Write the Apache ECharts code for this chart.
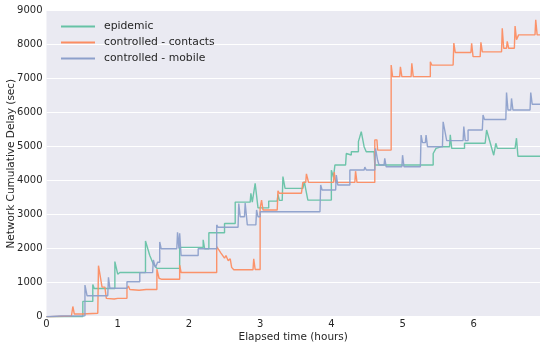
<!DOCTYPE html>
<html><head><meta charset="utf-8">
<script src="https://cdn.jsdelivr.net/npm/echarts@6/dist/echarts.min.js"></script>
<style>html,body{margin:0;padding:0;background:#fff}#c{width:550px;height:348px}</style>
</head><body><div id="c"></div>
<script>
const seriesNames = ['epidemic', 'controlled - contacts', 'controlled - mobile'];
const xTicks = [0, 1, 2, 3, 4, 5, 6];
const yTicks = [0, 1000, 2000, 3000, 4000, 5000, 6000, 7000, 8000, 9000];

// [hours, delay sec]
const epidemic = [[0,0],[0.51,0],[0.51,450],[0.65,450],[0.65,950],[0.67,830],[0.96,830],[0.96,1620],[1.0,1250],[1.03,1300],[1.39,1300],[1.39,2230],[1.45,1800],[1.5,1550],[1.55,1420],[1.87,1420],[1.87,2040],[2.2,2040],[2.2,2260],[2.22,2000],[2.28,2000],[2.28,2470],[2.5,2470],[2.5,2740],[2.65,2740],[2.65,3370],[2.86,3370],[2.87,3630],[2.89,3370],[2.91,3370],[2.93,3920],[2.97,3200],[3.12,3200],[3.12,3400],[3.24,3400],[3.25,3600],[3.27,3420],[3.31,3420],[3.32,4120],[3.35,3775],[3.6,3775],[3.62,3970],[3.67,3430],[4.0,3430],[4.0,4310],[4.03,4100],[4.05,4460],[4.2,4460],[4.21,4800],[4.22,4755],[4.28,4755],[4.28,4850],[4.38,4850],[4.38,5150],[4.42,5440],[4.46,5000],[4.49,4850],[4.6,4850],[4.61,4460],[5.43,4460],[5.43,4800],[5.47,4950],[5.55,5000],[5.66,5000],[5.67,5350],[5.69,4950],[5.87,4950],[5.87,5100],[6.16,5100],[6.18,5490],[6.28,4750],[6.3,4750],[6.31,5100],[6.33,4950],[6.58,4950],[6.6,5250],[6.62,4720],[6.93,4720]];

const contacts = [[0,0],[0.05,0],[0.05,20],[0.35,20],[0.37,300],[0.39,80],[0.5,80],[0.5,100],[0.72,100],[0.73,1500],[0.78,870],[0.82,870],[0.83,920],[0.84,540],[0.95,520],[1.0,540],[1.13,540],[1.13,835],[1.15,900],[1.17,800],[1.3,780],[1.4,800],[1.55,800],[1.55,1395],[1.58,1130],[1.62,1100],[1.87,1100],[1.87,1520],[1.89,1300],[2.39,1300],[2.39,2060],[2.45,1870],[2.5,1720],[2.52,1800],[2.55,1650],[2.58,1700],[2.6,1450],[2.63,1380],[2.9,1380],[2.91,1700],[2.93,1390],[3.0,1390],[3.0,3190],[3.02,3430],[3.04,3140],[3.24,3140],[3.25,3700],[3.27,3630],[3.58,3630],[3.6,3950],[3.64,3950],[3.65,4200],[3.68,3950],[4.03,3950],[4.04,4250],[4.06,3950],[4.33,3950],[4.34,4280],[4.36,3950],[4.61,3950],[4.61,5200],[4.64,5200],[4.65,4900],[4.84,4900],[4.84,7400],[4.86,7060],[4.96,7060],[4.97,7350],[4.99,7060],[5.12,7060],[5.13,7450],[5.15,7060],[5.39,7060],[5.39,7500],[5.41,7400],[5.71,7400],[5.72,8050],[5.74,7770],[5.96,7770],[5.97,8040],[5.99,7650],[6.09,7650],[6.1,8070],[6.12,7790],[6.39,7790],[6.4,8480],[6.42,7895],[6.46,7895],[6.47,8100],[6.49,7895],[6.57,7895],[6.58,8550],[6.6,8150],[6.63,8290],[6.86,8290],[6.87,8730],[6.89,8290],[6.93,8290]];

const mobile = [[0,0],[0.2,20],[0.54,30],[0.54,930],[0.57,615],[0.86,615],[0.87,1160],[0.89,835],[1.13,835],[1.13,1030],[1.31,1030],[1.31,1295],[1.49,1295],[1.5,1670],[1.53,1450],[1.56,1600],[1.59,1600],[1.59,2200],[1.61,2000],[1.83,2000],[1.84,2480],[1.86,2000],[1.87,2450],[1.89,1800],[2.13,1800],[2.13,2000],[2.39,2000],[2.39,2700],[2.41,2630],[2.69,2630],[2.7,3330],[2.72,2940],[2.78,2940],[2.79,3340],[2.82,2700],[2.94,2700],[2.95,3140],[2.97,2940],[3.0,2940],[3.0,3085],[3.84,3085],[3.85,3875],[3.87,3725],[4.06,3725],[4.07,4165],[4.09,3875],[4.26,3875],[4.26,4315],[4.46,4315],[4.47,4400],[4.49,4315],[4.61,4315],[4.62,4950],[4.65,4600],[4.67,4460],[4.74,4460],[4.75,4660],[4.77,4410],[4.99,4410],[5.0,4750],[5.02,4410],[5.25,4410],[5.26,5340],[5.28,5120],[5.32,5120],[5.33,5340],[5.35,5000],[5.56,5000],[5.57,5730],[5.62,5180],[5.85,5180],[5.86,5590],[5.88,5180],[5.92,5180],[5.92,5490],[6.12,5490],[6.13,5930],[6.15,5800],[6.45,5800],[6.46,6590],[6.48,6080],[6.52,6080],[6.53,6420],[6.55,6080],[6.79,6080],[6.8,6590],[6.82,6250],[6.93,6250]];

const colors = ['#66c2a5', '#fc8d62', '#8da0cb'];
const allData = [epidemic, contacts, mobile];

const chart = echarts.init(document.getElementById('c'), null, {renderer: 'canvas'});
chart.setOption({
  animation: false,
  backgroundColor: '#ffffff',
  color: colors,
  textStyle: {fontFamily: 'DejaVu Sans'},
  grid: {left: 46.5, right: 10, top: 10.7, bottom: 31.3, show: true, backgroundColor: '#EAEAF2', borderWidth: 0,
         containLabel: false, outerBoundsMode: 'none'},
  legend: {
    orient: 'vertical', left: 56, top: 16, itemWidth: 34, itemHeight: 2, itemGap: 5,
    icon: 'rect',
    textStyle: {fontSize: 10.8, color: '#262626', padding: [0, 0, 0, 4]},
    data: seriesNames
  },
  xAxis: {
    type: 'value', min: 0, max: 6.93, interval: 1,
    name: 'Elapsed time (hours)', nameLocation: 'middle', nameGap: 15, nameMoveOverlap: false,
    nameTextStyle: {fontSize: 10.5, color: '#262626'},
    axisLine: {show: false}, axisTick: {show: false}, splitLine: {show: false},
    axisLabel: {fontSize: 10, color: '#262626', margin: 3,
      formatter: v => xTicks.includes(v) ? String(v) : ''}
  },
  yAxis: {
    type: 'value', min: 0, max: 9000, interval: 1000,
    name: 'Network Cumulative Delay (sec)', nameLocation: 'middle', nameGap: 29.5, nameMoveOverlap: false,
    nameTextStyle: {fontSize: 10.5, color: '#262626'},
    axisLine: {show: false}, axisTick: {show: false},
    splitLine: {lineStyle: {color: '#ffffff', width: 1}},
    axisLabel: {fontSize: 10, color: '#262626', margin: 4,
      formatter: v => yTicks.includes(v) ? String(v) : ''}
  },
  series: seriesNames.map((n, i) => ({
    name: n, type: 'line', data: allData[i], showSymbol: false, symbol: 'none',
    lineStyle: {width: 1.4, color: colors[i], opacity: 0.95},
    itemStyle: {color: colors[i]},
    z: 2 + (i === 1 ? 0 : i)
  }))
});
</script></body></html>
